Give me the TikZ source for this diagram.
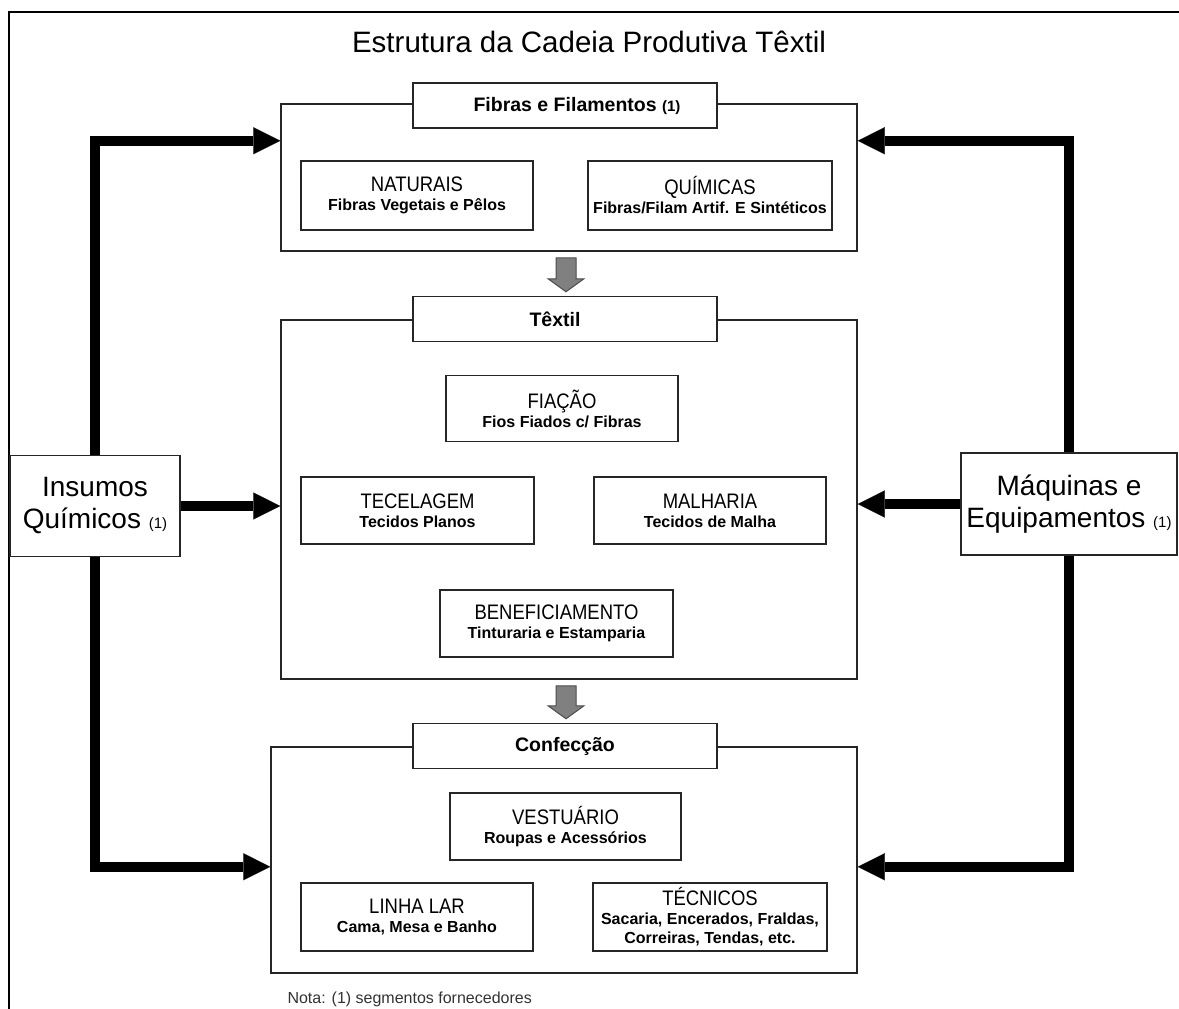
\documentclass[tikz,border=0pt]{standalone}
\usepackage{fontspec}
\setmainfont{Liberation Sans}
\newfontfamily\narrowsans[FakeStretch=0.88]{Liberation Sans}
\usetikzlibrary{arrows.meta,calc}

% header line of a stage box (regular weight, condensed)
\newcommand\stagehead[1]{{\narrowsans\mdseries\fontsize{21}{20}\selectfont #1}}
% small reference marks
\newcommand\refmark[1]{{\fontsize{15}{15}\selectfont #1}}

\tikzset{
  frame/.style={draw=black,line width=2pt},
  sect/.style={draw=black!85,line width=1.5pt,rectangle,inner sep=0pt},
  tabbox/.style={draw=black!85,line width=1.5pt,fill=white,rectangle,
    minimum width=304pt,minimum height=45pt,inner sep=0pt,
    font=\bfseries\fontsize{19.5}{22}\selectfont},
  item/.style={draw=black!85,line width=1.5pt,rectangle,inner sep=0pt,
    align=center,font=\bfseries\fontsize{16}{19}\selectfont},
  supply/.style={draw=black!85,line width=1.5pt,fill=white,rectangle,
    inner sep=0pt,align=center,font=\fontsize{28}{32}\selectfont},
  feed/.style={draw=black,line width=9.5pt,
    -{Triangle[length=27pt,width=27pt,line width=0.1pt]}},
  flow/.style={draw=black!70,line width=1pt,fill=gray}
}

\begin{document}
\begin{tikzpicture}[x=1pt,y=-1pt]
\useasboundingbox (0,0) rectangle (1179,1009);

% page frame (open to the right and bottom)
\draw[frame] (9,1009) -- (9,12) -- (1179,12);

% title
\node[font=\fontsize{29.5}{32}\selectfont] (title) at (589,42)
  {Estrutura da Cadeia Produtiva Têxtil};

% ---- stage 1: fibres ----
\node[sect,minimum width=576pt,minimum height=147pt] (fib) at (569,177.5) {};
\node[tabbox] (fibtab) at (565,105.5)
  {\hspace*{24pt}Fibras e Filamentos {\fontsize{15}{15}\selectfont(1)}};
\node[item,minimum width=232pt,minimum height=69pt] (nat) at (417,195.5)
  {\stagehead{NATURAIS}\\Fibras Vegetais e Pêlos};
\node[item,minimum width=244pt,minimum height=69pt] (qui) at (710,195.5)
  {\stagehead{QUÍMICAS}\\Fibras/Filam Artif. E Sintéticos};

% ---- stage 2: textile ----
\node[sect,minimum width=576pt,minimum height=359pt] (tex) at (569,499.5) {};
\node[tabbox] (textab) at (565,319) {Têxtil\hspace*{20pt}};
\node[item,minimum width=232pt,minimum height=66pt] (fia) at (562,408.5)
  {\stagehead{FIAÇÃO}\\Fios Fiados c/ Fibras};
\node[item,minimum width=233pt,minimum height=67pt] (tec) at (417.5,510.5)
  {\stagehead{TECELAGEM}\\Tecidos Planos};
\node[item,minimum width=232pt,minimum height=67pt] (mal) at (710,510.5)
  {\stagehead{MALHARIA}\\Tecidos de Malha};
\node[item,minimum width=233pt,minimum height=67pt] (ben) at (556.5,623.5)
  {\stagehead{BENEFICIAMENTO}\\Tinturaria e Estamparia};

% ---- stage 3: clothing ----
\node[sect,minimum width=586pt,minimum height=226pt] (con) at (564,860) {};
\node[tabbox] (contab) at (565,746) {Confecção};
\node[item,minimum width=231pt,minimum height=67pt] (ves) at (565.5,826.5)
  {\stagehead{VESTUÁRIO}\\Roupas e Acessórios};
\node[item,minimum width=232pt,minimum height=68pt] (lin) at (417,917)
  {\stagehead{LINHA LAR}\\Cama, Mesa e Banho};
\node[item,minimum width=234pt,minimum height=68pt] (tcn) at (710,917)
  {\stagehead{TÉCNICOS}\\Sacaria, Encerados, Fraldas,\\Correiras, Tendas, etc.};

% ---- supplier segments ----
\node[supply,minimum width=170pt,minimum height=101pt] (ins) at (95,506)
  {Insumos\\Químicos \refmark{(1)}};
\node[supply,minimum width=216pt,minimum height=102pt] (maq) at (1069,504)
  {Máquinas e\\Equipamentos \refmark{(1)}};

% entry points on the stage boxes
\coordinate (fibin)  at ($(fib.north west)+(0,37.5)$);
\coordinate (fibout) at ($(fib.north east)+(0,37.5)$);
\coordinate (conin)  at ($(con.north west)+(0,120.5)$);
\coordinate (conout) at ($(con.north east)+(0,120.5)$);

% supply arrows
\draw[feed] (ins.north) -- (ins.north |- fibin) -- (fibin);
\draw[feed] (ins.east) -- (ins.east -| tex.west);
\draw[feed] (ins.south) -- (ins.south |- conin) -- (conin);
\draw[feed] (maq.north) -- (maq.north |- fibout) -- (fibout);
\draw[feed] (maq.west) -- (maq.west -| tex.east);
\draw[feed] (maq.south) -- (maq.south |- conout) -- (conout);

% block arrows between stages
\filldraw[flow] let \p1=($(fib.south)+(-3,6)$), \p2=($(textab.north)+(0,-4)$) in
  (\x1-10pt,\y1) -- (\x1+10pt,\y1) -- (\x1+10pt,\y2+13pt) -- (\x1+18pt,\y2+13pt)
  -- (\x1,\y2) -- (\x1-18pt,\y2+13pt) -- (\x1-10pt,\y2+13pt) -- cycle;
\filldraw[flow] let \p1=($(tex.south)+(-3,6)$), \p2=($(contab.north)+(0,-4)$) in
  (\x1-10pt,\y1) -- (\x1+10pt,\y1) -- (\x1+10pt,\y2+13pt) -- (\x1+18pt,\y2+13pt)
  -- (\x1,\y2) -- (\x1-18pt,\y2+13pt) -- (\x1-10pt,\y2+13pt) -- cycle;

% footnote
\node[anchor=west,text=black!80,font=\fontsize{16}{18}\selectfont] (nota) at (284,999)
  {Nota: (1) segmentos fornecedores};
\end{tikzpicture}
\end{document}
